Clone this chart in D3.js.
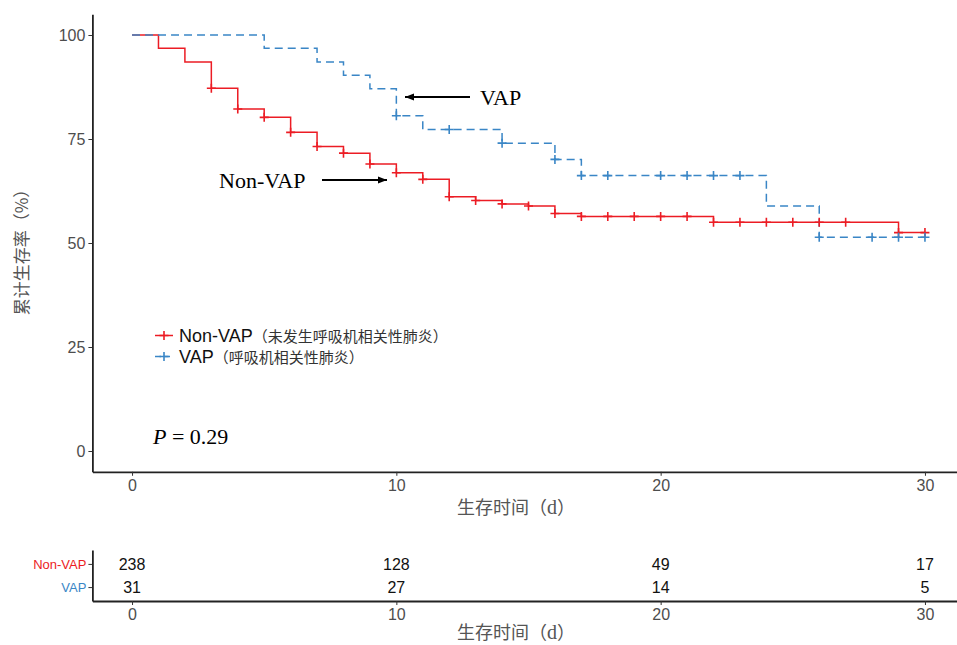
<!DOCTYPE html>
<html><head><meta charset="utf-8">
<script src="https://cdn.jsdelivr.net/npm/d3@7/dist/d3.min.js"></script>
<style>body{margin:0;background:#fff}</style>
</head><body><svg id="c" width="957" height="645"></svg>
<script>
// ---- data ----
const nonVapTime = [0,1,2,3,4,5,6,7,8,9,10,11,12,13,14,15,16,17,22,29,30];
const nonVapSurv = [100,96.8,93.5,87.2,82.2,80.2,76.6,73.2,71.6,69.0,66.9,65.3,61.1,60.2,59.4,58.9,57.1,56.4,55.0,52.5,52.5];
const nonVapCensor = [3,4,5,6,7,8,9,10,11,12,13,14,15,16,17,18,19,20,21,22,23,24,25,26,27,29,30];
const vapTime = [0,5,7,8,9,10,11,14,16,17,24,26,30];
const vapSurv = [100,96.8,93.5,90.3,87.1,80.6,77.3,74.0,70.1,66.2,58.9,51.4,51.4];
const vapCensor = [10,12,14,16,17,18,20,21,22,23,26,28,29,30];
const xTicks = [0,10,20,30];
const yTicks = [0,25,50,75,100];
const riskGroups = ["Non-VAP","VAP"];
const riskNonVap = [238,128,49,17];
const riskVap = [31,27,14,5];
const legendLabels = ["Non-VAP","VAP"];
const legendNotes = ["（未发生呼吸机相关性肺炎）","（呼吸机相关性肺炎）"];

const RED = "#ec1c24", BLUE = "#3a86c6";
const svg = d3.select("#c");

const x = d3.scaleLinear().domain([-1.5,31.5]).range([92.4,964.6]);
const y = d3.scaleLinear().domain([-5,105]).range([471.8,14.2]);

function survAt(times, surv, t){
  let i = d3.bisectRight(times, t) - 1;
  return surv[Math.max(0,i)];
}

const sans = "'Liberation Sans', Arial, sans-serif";
const serif = "'Liberation Serif', 'Times New Roman', serif";
const cjk = "'Noto Sans CJK SC', sans-serif";

// axes
const yAxis = svg.append("g").attr("transform",`translate(${x.range()[0]},0)`)
  .call(d3.axisLeft(y).tickValues(yTicks).tickSize(4).tickSizeOuter(0).tickPadding(3));
const xAxis = svg.append("g").attr("transform",`translate(0,${y.range()[0]})`)
  .call(d3.axisBottom(x).tickValues(xTicks).tickSize(4).tickSizeOuter(0).tickPadding(4));
[xAxis,yAxis].forEach(g=>{
  g.select(".domain").attr("stroke","#222").attr("stroke-width",1.8);
  g.selectAll(".tick line").attr("stroke","#333").attr("stroke-width",1);
  g.selectAll(".tick text").attr("fill","#4d4d4d").style("font-family",sans).style("font-size","16px");
});

// curves
const line = d3.line().x(d=>x(d[0])).y(d=>y(d[1])).curve(d3.curveStepAfter);
svg.append("path").datum(nonVapTime.map((t,i)=>[t,nonVapSurv[i]]))
  .attr("d",line).attr("fill","none").attr("stroke",RED).attr("stroke-width",1.5);
svg.append("path").datum(vapTime.map((t,i)=>[t,vapSurv[i]]))
  .attr("d",line).attr("fill","none").attr("stroke",BLUE).attr("stroke-width",1.5)
  .attr("stroke-dasharray","8,5");

function cross(g, cx, cy, color){
  g.append("path").attr("d",`M${cx-4.5},${cy}H${cx+4.5}M${cx},${cy-4.5}V${cy+4.5}`)
    .attr("stroke",color).attr("stroke-width",1.6).attr("fill","none");
}
const cg = svg.append("g");
nonVapCensor.forEach(t=>cross(cg, x(t), y(survAt(nonVapTime,nonVapSurv,t)), RED));
vapCensor.forEach(t=>cross(cg, x(t), y(survAt(vapTime,vapSurv,t)), BLUE));

// axis titles
svg.append("text").attr("transform","translate(28,248) rotate(-90)").attr("text-anchor","middle")
  .style("font-family",cjk).style("font-size","17px").attr("fill","#555").text("累计生存率（%）");
function xTitle(yy){
  const t = svg.append("text").attr("x",516).attr("y",yy).attr("text-anchor","middle")
    .style("font-family",cjk).style("font-size","18px").attr("fill","#555");
  t.append("tspan").text("生存时间（");
  t.append("tspan").style("font-family",serif).style("font-size","20px").text("d");
  t.append("tspan").text("）");
}
xTitle(514);

// annotations
const defs = svg.append("defs");
defs.append("marker").attr("id","ah").attr("viewBox","0 0 10 10").attr("refX",10).attr("refY",5)
  .attr("markerWidth",9).attr("markerHeight",9).attr("markerUnits","userSpaceOnUse").attr("orient","auto")
  .append("path").attr("d","M0,1L10,5L0,9Z").attr("fill","#000");
svg.append("line").attr("x1",470).attr("y1",97).attr("x2",405).attr("y2",97)
  .attr("stroke","#000").attr("stroke-width",2).attr("marker-end","url(#ah)");
svg.append("text").attr("x",480).attr("y",105).style("font-family",serif).style("font-size","22px").text("VAP");
svg.append("line").attr("x1",322).attr("y1",180).attr("x2",387).attr("y2",180)
  .attr("stroke","#000").attr("stroke-width",2).attr("marker-end","url(#ah)");
svg.append("text").attr("x",219).attr("y",188).style("font-family",serif).style("font-size","22px").text("Non-VAP");

// legend
[0,1].forEach(i=>{
  const cy = i===0 ? 335.5 : 356.5;
  const col = i===0 ? RED : BLUE;
  const k = svg.append("g");
  k.append("line").attr("x1",155).attr("x2",173).attr("y1",cy).attr("y2",cy)
    .attr("stroke",col).attr("stroke-width",1.5).attr("stroke-dasharray", i===0?null:"6,3");
  cross(k, 164, cy, col);
  const t = svg.append("text").attr("x",179).attr("y",cy+6.5).attr("fill","#111");
  t.append("tspan").style("font-family",sans).style("font-size","18px").text(legendLabels[i]);
  t.append("tspan").style("font-family",cjk).style("font-size","15px").attr("fill","#333").text(legendNotes[i]);
});

// P value
const p = svg.append("text").attr("x",153).attr("y",444).style("font-family",serif).style("font-size","22px");
p.append("tspan").style("font-style","italic").text("P");
p.append("tspan").text(" = 0.29");

// risk table
const ry = d3.scaleLinear().domain([0.4,2.6]).range([601,550]);
const rowOf = g => g==="Non-VAP" ? 2 : 1;
const rAxY = svg.append("g").attr("transform",`translate(${x.range()[0]},0)`)
  .call(d3.axisLeft(ry).tickValues(riskGroups.map(rowOf)).tickFormat((d,i)=>riskGroups[i]).tickSize(4).tickSizeOuter(0).tickPadding(2));
const rAxX = svg.append("g").attr("transform",`translate(0,${ry.range()[0]})`)
  .call(d3.axisBottom(x).tickValues(xTicks).tickSize(4).tickSizeOuter(0).tickPadding(4));
[rAxY,rAxX].forEach(g=>{
  g.select(".domain").attr("stroke","#222").attr("stroke-width",1.8);
  g.selectAll(".tick line").attr("stroke","#333").attr("stroke-width",1);
});
rAxX.selectAll(".tick text").attr("fill","#4d4d4d").style("font-family",sans).style("font-size","16px");
rAxY.selectAll(".tick text").style("font-family",sans).style("font-size","13px")
  .attr("fill",(d,i)=> i===0?RED:BLUE);
[[riskNonVap,"Non-VAP"],[riskVap,"VAP"]].forEach(([vals,g])=>{
  svg.append("g").selectAll("text").data(vals).join("text")
    .attr("x",(d,i)=>x(xTicks[i])).attr("y",ry(rowOf(g))).attr("dy","0.36em")
    .attr("text-anchor","middle").style("font-family",sans).style("font-size","16px").attr("fill","#111")
    .text(d=>d);
});
xTitle(639);
</script></body></html>
